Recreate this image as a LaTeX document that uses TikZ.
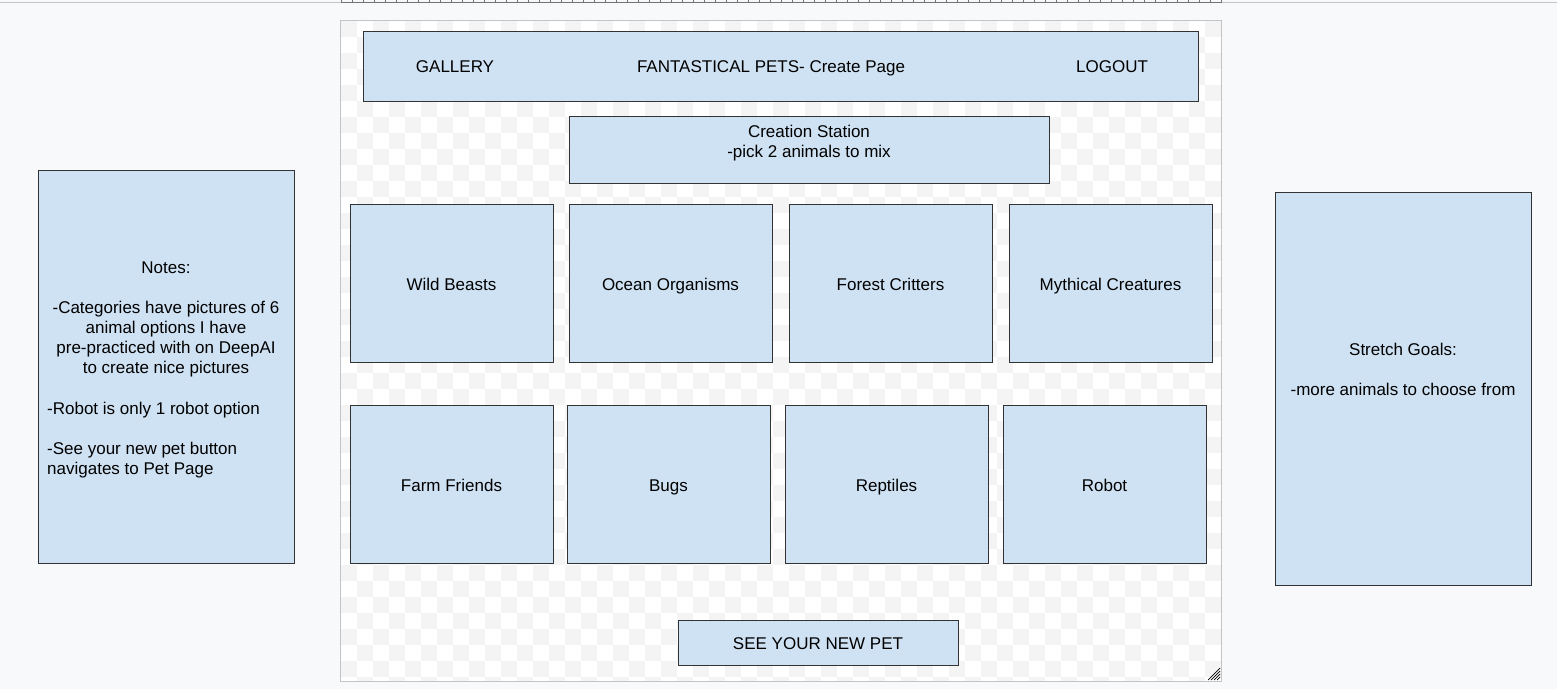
\documentclass[tikz,border=0pt]{standalone}
\usepackage{fontspec}
\setmainfont{Liberation Sans}
\begin{document}
\begin{tikzpicture}[x=1pt,y=-1pt,
  every node/.style={font=\fontsize{17}{20}\selectfont, text=black, inner sep=0pt,
    text height=15.3pt, text depth=3.1pt},
  card/.style={draw=black!80, line width=0.9pt, fill=cardblue},
  lbl/.style={anchor=center, align=center},
]
\definecolor{cardblue}{HTML}{CFE2F3}
\definecolor{pagebg}{HTML}{F8F9FB}
\definecolor{checker}{HTML}{F4F4F4}
\definecolor{frame}{HTML}{C4C4C4}

% page background and bounds
\fill[pagebg] (0,0) rectangle (1557,689);
\useasboundingbox (0,0) rectangle (1557,689);

% ruler along the top edge
\draw[frame, line width=1pt] (0,2.5) -- (1557,2.5);
\draw[black!55, line width=1pt] (341,2.5) -- (1221,2.5);
\foreach \k in {0,...,80} {
  \draw[black!55, line width=0.8pt] ({341.7+11*\k},0) -- ({341.7+11*\k},2.5);
}

% canvas with checkerboard
\fill[white] (341,21) rectangle (1221,681);
\begin{scope}
  \clip (341,21) rectangle (1221,681);
  \foreach \i in {0,...,54} {
    \foreach \j in {0,...,41} {
      \pgfmathtruncatemacro{\cellpar}{mod(\i+\j,2)}
      \ifnum\cellpar=0
        \fill[checker] ({341+16*\i},{21+16*\j}) rectangle +(16,16);
      \fi
    }
  }
\end{scope}
\draw[frame, line width=1pt] (340.5,20.5) rectangle (1221.5,681.5);
% resize grip
\foreach \d in {0,3,...,12} {
  \draw[black, line width=0.7pt] ({1220-\d},680) -- (1220,{680-\d});
}

% header bar
\draw[card] (363,31) rectangle (1198,101);
\node[lbl] (gallery) at (455,66) {GALLERY};
\node[lbl] (title) at (771,66) {FANTASTICAL PETS- Create Page};
\node[lbl] (logout) at (1112,66) {LOGOUT};

% creation station (multi-line labels are placed by their last line)
\draw[card] (569,116) rectangle (1049,183);
\node[lbl] (station) at (809,151) {Creation Station\\-pick 2 animals to mix};

% category cards, first row
\draw[card] (350,204) rectangle (553,362);
\node[lbl] (wild) at (451.5,284) {Wild Beasts};
\draw[card] (569,204) rectangle (772,362);
\node[lbl] (ocean) at (670.5,284) {Ocean Organisms};
\draw[card] (789,204) rectangle (992,362);
\node[lbl] (forest) at (890.5,284) {Forest Critters};
\draw[card] (1009,204) rectangle (1212,362);
\node[lbl] (mythical) at (1110.5,284) {Mythical Creatures};

% category cards, second row
\draw[card] (350,405) rectangle (553,563);
\node[lbl] (farm) at (451.5,485) {Farm Friends};
\draw[card] (567,405) rectangle (770,563);
\node[lbl] (bugs) at (668.5,485) {Bugs};
\draw[card] (785,405) rectangle (988,563);
\node[lbl] (reptiles) at (886.5,485) {Reptiles};
\draw[card] (1003,405) rectangle (1206,563);
\node[lbl] (robot) at (1104.5,485) {Robot};

% action button
\draw[card] (678,620) rectangle (958,665);
\node[lbl] (seepet) at (818,643) {SEE YOUR NEW PET};

% notes panel
\draw[card] (38,170) rectangle (294,563);
\node[lbl] (notesa) at (166,367) {Notes:\\[20pt]-Categories have pictures of 6\\animal options I have\\pre-practiced with on DeepAI\\to create nice pictures};
\node[anchor=west, align=left] (notesb) at (47,468) {-Robot is only 1 robot option\\[20pt]-See your new pet button\\navigates to Pet Page};

% stretch goals panel
\draw[card] (1275,192) rectangle (1531,585);
\node[lbl] (stretch) at (1403,389) {Stretch Goals:\\[20pt]-more animals to choose from};
\end{tikzpicture}
\end{document}
